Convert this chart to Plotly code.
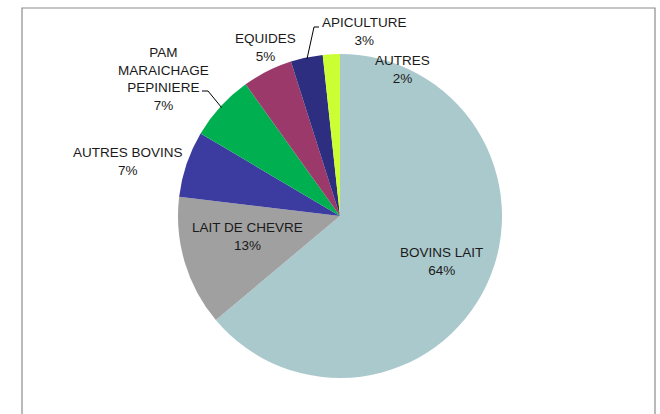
import math
import plotly.graph_objects as go

# ---- data ----
categories = ["BOVINS LAIT", "LAIT DE CHEVRE", "AUTRES BOVINS",
              "PAM<br>MARAICHAGE<br>PEPINIERE", "EQUIDES", "APICULTURE", "AUTRES"]
values = [63.9, 13.0, 6.6, 6.6, 5.0, 3.2, 1.7]
colors = ["#AAC9CC", "#A0A0A0", "#3B3BA0", "#00B050", "#9B3A6A", "#2E2E80", "#CCFF33"]

W, H = 660, 414
CX, CY, R = 340, 216, 162  # pie centre / radius in pixels

def px(x):
    return x / W

def py(y):
    return (H - y) / H

fig = go.Figure(go.Pie(
    labels=categories,
    values=values,
    sort=False,
    direction="clockwise",
    rotation=0,
    marker=dict(colors=colors, line=dict(width=0)),
    textinfo="none",
    hoverinfo="label+percent",
    showlegend=False,
    domain=dict(x=[px(CX - R), px(CX + R)], y=[py(CY + R), py(CY - R)]),
))

total = sum(values)
pcts = [round(v / total * 100) for v in values]

# label centre positions (pixels)
label_pos = [(441, 262), (247, 236), (128, 162), (163, 79), (265, 48), (364, 31), (402, 70)]

annotations = []
for cat, p, (lx, ly) in zip(categories, pcts, label_pos):
    annotations.append(dict(
        x=px(lx), y=py(ly), xref="paper", yref="paper",
        text=f"{cat}<br>{p}%", showarrow=False,
        font=dict(family="Liberation Sans, Arial", size=13.5, color="#1a1a1a"),
        align="center", xanchor="center", yanchor="middle",
    ))

# leader lines for PAM and APICULTURE, ending at slice mid-angle on the rim
cum = [0]
for v in values:
    cum.append(cum[-1] + v)

def rim_point(i, frac=0.99):
    ang = (cum[i] + values[i] / 2) / total * 2 * math.pi
    return CX + R * frac * math.sin(ang), CY - R * frac * math.cos(ang)

shapes = []
leaders = {3: (202, 91, 208), 5: (319, 27, 314)}
for i, (sx, sy, kx) in leaders.items():
    ex, ey = rim_point(i)
    shapes.append(dict(type="path", xref="paper", yref="paper",
                       path=f"M {px(sx)} {py(sy)} L {px(kx)} {py(sy)} L {px(ex)} {py(ey)}",
                       line=dict(color="#000000", width=1)))

# outer frame
shapes.append(dict(type="rect", xref="paper", yref="paper",
                   x0=px(22), x1=px(655), y0=-0.05, y1=py(8),
                   line=dict(color="#8C8C8C", width=1.2), fillcolor="rgba(0,0,0,0)"))

fig.update_layout(
    width=W, height=H,
    margin=dict(l=0, r=0, t=0, b=0),
    paper_bgcolor="white", plot_bgcolor="white",
    annotations=annotations, shapes=shapes,
)

fig.write_html("out.html",
               config={"displayModeBar": False},
               post_script="document.body.style.margin='0';document.body.style.overflow='hidden';")
